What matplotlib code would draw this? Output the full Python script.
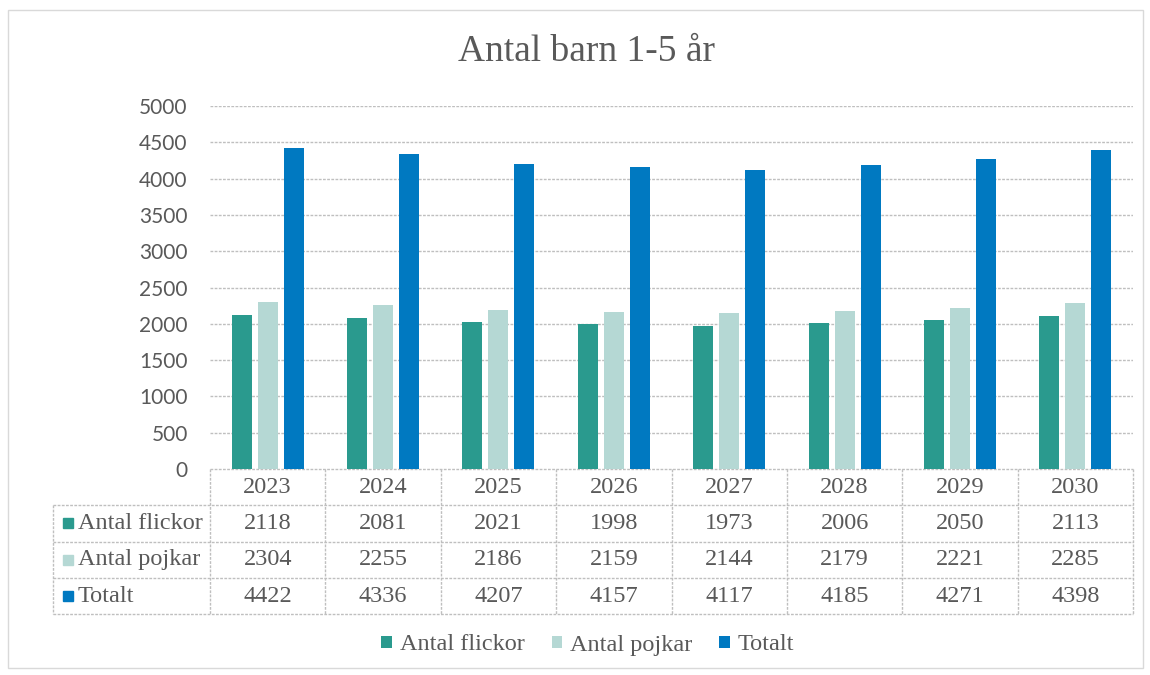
import matplotlib.pyplot as plt
import matplotlib.transforms as mtransforms
from matplotlib.patches import Patch, Rectangle
import numpy as np

# data
years = ["2023", "2024", "2025", "2026", "2027", "2028", "2029", "2030"]
flickor = [2118, 2081, 2021, 1998, 1973, 2006, 2050, 2113]
pojkar = [2304, 2255, 2186, 2159, 2144, 2179, 2221, 2285]
totalt = [4422, 4336, 4207, 4157, 4117, 4185, 4271, 4398]
series_names = ["Antal flickor", "Antal pojkar", "Totalt"]
colors = ["#2A9A8E", "#B5D8D4", "#0079C1"]

serif = "Liberation Serif"
txt_col = "#595959"
grid_col = "#BFBFBF"

fig = plt.figure(figsize=(11.5, 6.75), dpi=100)
W, H = 1150, 675
ax = fig.add_axes([210 / W, 1 - 469 / H, (1133 - 210) / W, (469 - 106) / H])

# outer chart border
fig.patches.append(Rectangle((8 / W, 1 - 668 / H), (1143 - 8) / W, (668 - 10) / H,
                             transform=fig.transFigure, fill=False,
                             edgecolor="#D9D9D9", lw=1))

x = np.arange(len(years))
bw = 0.173
step = 0.225
for k, vals in enumerate([flickor, pojkar, totalt]):
    ax.bar(x + (k - 1) * step, vals, width=bw, color=colors[k], zorder=3)

ax.set_xlim(-0.5, len(years) - 0.5)
ax.set_ylim(0, 5000)
ax.set_yticks(np.arange(0, 5001, 500))
ax.set_xticks([])
for v in np.arange(500, 5001, 500):
    ax.axhline(v, color=grid_col, lw=1, ls=(0, (2, 1)), zorder=1)
for s in ax.spines.values():
    s.set_visible(False)
ax.tick_params(axis="y", length=0, pad=16, labelsize=15, labelcolor=txt_col)
for lab in ax.get_yticklabels():
    lab.set_fontfamily("Lato")

# title
fig.text(586 / W, 1 - 52 / H, "Antal barn 1-5 år", ha="center", va="center",
         fontsize=27, family=serif, color=txt_col)

# data table under the axes
tr = mtransforms.blended_transform_factory(ax.transData, ax.transAxes)
rh = 0.1
left = -1.86
right = len(years) - 0.5
lkw = dict(color=grid_col, lw=1, ls=(0, (2, 1)), transform=tr, clip_on=False)
# horizontal lines
ax.plot([-0.5, right], [0, 0], **lkw)
for r in range(1, 5):
    ax.plot([left, right], [-r * rh, -r * rh], **lkw)
# vertical lines
ax.plot([left, left], [-rh, -4 * rh], **lkw)
for i in range(len(years) + 1):
    ax.plot([i - 0.5, i - 0.5], [0, -4 * rh], **lkw)

tkw = dict(transform=tr, family=serif, fontsize=17.5, color=txt_col, va="center", clip_on=False)
for i, yr in enumerate(years):
    ax.text(i, -0.5 * rh, yr, ha="center", **tkw)
for r, (name, vals) in enumerate(zip(series_names, [flickor, pojkar, totalt])):
    yc = -(r + 1.5) * rh
    ax.plot([-1.73], [yc], marker="s", ms=7, color=colors[r], transform=tr, clip_on=False)
    ax.text(-1.645, yc, name, ha="left", **tkw)
    for i, v in enumerate(vals):
        ax.text(i, yc, str(v), ha="center", **tkw)

# legend
handles = [Patch(facecolor=c, edgecolor="none") for c in colors]
fig.legend(handles, series_names, loc="center", bbox_to_anchor=(588 / W, 1 - 645 / H),
           ncol=3, frameon=False, handlelength=0.42, handleheight=0.42, handletextpad=0.35,
           columnspacing=1.1, prop={"family": serif, "size": 17.5}, labelcolor=txt_col)

fig.savefig("out.png", dpi=100)
